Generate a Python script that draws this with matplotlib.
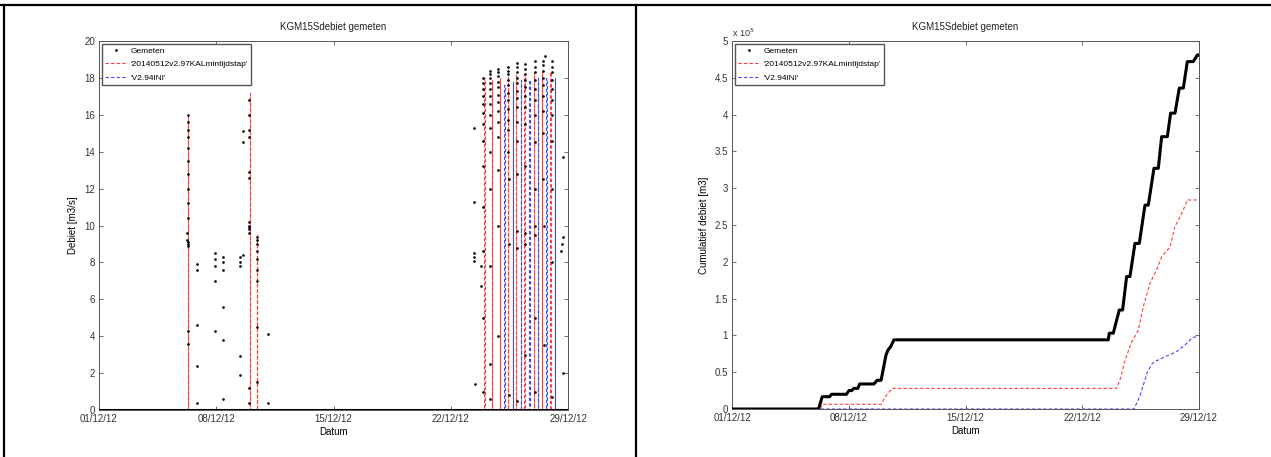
import matplotlib
matplotlib.use('Agg')
import matplotlib.pyplot as plt
import matplotlib.dates as mdates
from matplotlib.lines import Line2D
from matplotlib.ticker import FuncFormatter
from datetime import datetime, timedelta

plt.rcParams['font.family'] = ['Liberation Sans', 'DejaVu Sans']
plt.rcParams['font.size'] = 7

# ---------------------------------------------------------------
# data, time as day of December 2012 (1.0 = 01/12/12 00:00)
# ---------------------------------------------------------------
x_start, x_end = 1.0, 29.0
tick_days = [1, 8, 15, 22, 29]

# measured flow is zero outside the pump events
zero_days = [1.0, 29.0]

# measured flow, sparse points [m3/s]
meas_day = [
    # event 06/12
    6.30, 6.30, 6.31, 6.30, 6.31, 6.30, 6.31, 6.30, 6.30, 6.29, 6.28, 6.28, 6.29, 6.30, 6.30, 6.31, 6.30,
    6.85, 6.85, 6.86, 6.85, 6.86,
    7.93, 7.93, 7.94, 7.93, 7.94,
    8.40, 8.41, 8.40, 8.42, 8.40, 8.41,
    9.42, 9.42, 9.43, 9.42, 9.43,
    9.60, 9.61, 9.60,
    # event 10/12
    9.95, 9.96, 9.95, 9.96, 9.95, 9.96, 9.97, 9.96, 9.95, 9.96, 9.95, 9.97, 9.96,
    10.43, 10.43, 10.44, 10.43, 10.44, 10.43, 10.44, 10.43, 10.44,
    11.10, 11.10,
    # events 23/12 - 29/12
    23.40, 23.40, 23.41, 23.40, 23.41, 23.42,
    23.80, 23.80,
    23.94, 23.94, 23.94, 23.94, 23.94, 23.94, 23.94, 23.94, 23.94, 23.94, 23.94, 23.95, 23.95,
    24.34, 24.34, 24.34, 24.34, 24.34, 24.34, 24.34, 24.34, 24.34, 24.34, 24.34, 24.35, 24.35, 24.35,
    24.84, 24.84, 24.84, 24.84, 24.84, 24.84, 24.84, 24.84, 24.84, 24.84, 24.84, 24.85, 24.85,
    25.44, 25.44, 25.44, 25.44, 25.44, 25.44, 25.44, 25.44, 25.44, 25.44, 25.44, 25.45, 25.45, 25.45,
    25.94, 25.94, 25.94, 25.94, 25.94, 25.94, 25.94, 25.94, 25.94, 25.94, 25.94, 25.95, 25.95, 25.95,
    26.43, 26.43, 26.43, 26.43, 26.43, 26.43, 26.43, 26.43, 26.43, 26.44, 26.44, 26.44,
    27.03, 27.03, 27.03, 27.03, 27.03, 27.03, 27.03, 27.03, 27.03, 27.04, 27.04, 27.04, 27.04,
    27.53, 27.53, 27.53, 27.53, 27.53, 27.53, 27.53, 27.53, 27.53, 27.54, 27.54,
    28.03, 28.03, 28.03, 28.03, 28.03, 28.03, 28.03, 28.03, 28.03, 28.04, 28.04,
    27.60, 28.70, 28.70, 28.65, 28.60, 28.70,
]
meas_q = [
    16.0, 15.6, 15.2, 14.8, 14.2, 13.5, 12.8, 12.0, 11.2, 10.4, 9.6, 9.2, 9.1, 9.0, 8.9, 4.3, 3.6,
    7.9, 7.6, 4.6, 2.4, 0.4,
    8.5, 8.2, 7.8, 7.0, 4.3,
    8.3, 8.0, 7.6, 5.6, 3.8, 0.6,
    8.3, 8.0, 7.8, 2.9, 1.9,
    15.1, 14.5, 8.4,
    16.8, 16.0, 15.2, 14.8, 12.9, 12.6, 10.2, 10.0, 9.9, 9.8, 9.6, 1.2, 0.4,
    9.4, 9.2, 9.0, 8.6, 8.2, 7.6, 7.0, 4.5, 1.5,
    4.1, 0.4,
    15.3, 11.3, 8.5, 8.3, 8.1, 1.4,
    7.8, 6.7,
    18.0, 17.7, 17.4, 17.0, 16.6, 16.1, 15.5, 14.6, 13.2, 11.0, 8.6, 5.0, 1.0,
    18.4, 18.2, 18.0, 17.7, 17.4, 17.0, 16.6, 16.0, 15.3, 14.0, 12.0, 7.8, 2.5, 0.6,
    18.5, 18.3, 18.1, 17.8, 17.5, 17.1, 16.7, 16.2, 15.6, 14.8, 13.0, 10.0, 4.0,
    18.6, 18.4, 18.2, 17.9, 17.6, 17.2, 16.8, 16.3, 15.7, 15.2, 14.0, 12.5, 9.0, 0.8,
    18.8, 18.6, 18.3, 18.0, 17.7, 17.3, 16.9, 16.4, 15.6, 14.6, 12.8, 9.7, 8.8, 0.5,
    18.75, 18.5, 18.2, 17.9, 17.5, 17.0, 16.4, 15.5, 13.2, 9.6, 9.0, 3.0,
    18.9, 18.6, 18.3, 17.9, 17.4, 16.8, 16.0, 14.5, 12.0, 10.0, 9.5, 5.0, 1.0,
    18.9, 18.7, 18.4, 18.0, 17.6, 17.0, 16.2, 15.0, 12.5, 10.0, 3.5,
    18.9, 18.6, 18.3, 17.9, 17.4, 16.8, 16.0, 14.6, 12.0, 8.0, 0.7,
    19.2, 13.7, 9.4, 9.0, 8.6, 2.0,
]

# model runs: pump pulses (start day, peak flow m3/s)
red_on = [6.30, 10.00, 10.42, 24.00, 24.45, 24.95, 25.40, 25.90, 26.40, 26.95, 27.45, 27.95]
red_peak = [16.0, 17.2, 9.5, 18.0, 17.9, 18.0, 18.1, 18.2, 18.2, 18.3, 18.3, 18.3]
blue_on = [25.20, 25.70, 26.20, 26.70, 27.20, 27.70, 28.20]
blue_peak = [17.6, 17.8, 17.9, 17.9, 18.0, 18.0, 18.0]
pulse_len = 0.02

# cumulative volume [m3]
cum_meas_day = [1.0, 6.19, 6.41, 6.85, 6.97, 7.86, 8.01, 8.18, 8.30, 8.54, 8.66, 9.51, 9.70, 9.94,
                10.23, 10.35, 10.52, 10.71, 23.56, 23.62, 23.86, 24.22, 24.42, 24.66, 24.86, 25.16,
                25.42, 25.76, 25.96, 26.30, 26.56, 26.76, 27.10, 27.30, 27.56, 27.82, 28.06, 28.30,
                28.66, 28.90, 29.0]
cum_meas = [0, 0, 16700, 16700, 20000, 20000, 25000, 25000, 28000, 28000, 34000, 34000, 39000, 39000,
            73000, 80000, 85000, 94000, 94000, 103000, 103000, 134500, 134500, 180000, 180000, 225000,
            225000, 277000, 277000, 327000, 327000, 370000, 370000, 402000, 402000, 436000, 436000,
            472000, 472000, 481000, 481000]

cum_red_day = [1.0, 6.30, 6.40, 9.95, 10.20, 10.60, 24.06, 24.26, 24.56, 24.96, 25.36, 25.66, 26.06,
               26.46, 26.76, 27.26, 27.56, 27.86, 28.22, 28.30, 29.0]
cum_red = [0, 0, 6400, 6400, 17000, 28000, 28000, 39000, 66000, 91000, 107000, 139000, 171000,
           189000, 207000, 220000, 248000, 261000, 279000, 284000, 284000]

cum_blue_day = [1.0, 25.10, 25.45, 25.90, 26.20, 26.50, 27.06, 27.66, 28.16, 28.56, 29.0]
cum_blue = [0, 0, 17000, 50000, 62000, 66000, 72000, 78000, 87000, 96000, 100000]

labels = ['Gemeten', "'20140512v2.97KALmintijdstap'", "'V2.94INI'"]


def to_date(days):
    return [datetime(2012, 12, 1) + timedelta(days=d - 1) for d in days]


def pulses(on, peak, w):
    t, q = [x_start], [0.0]
    for s, h in zip(on, peak):
        t += [s, s, s + w, s + w]
        q += [0.0, h, h, 0.0]
    t.append(x_end)
    q.append(0.0)
    return to_date(t), q


red_col = '#ff3c3c'
blue_col = '#4646ff'
axis_col = '#555555'

fig = plt.figure(figsize=(12.71, 4.57), dpi=100)
W, H = 1271.0, 457.0
ax1 = fig.add_axes([99 / W, 47 / H, 469 / W, 369 / H])
ax2 = fig.add_axes([732 / W, 48 / H, 467 / W, 368 / H])

# left panel: flow
rt, rq = pulses(red_on, red_peak, pulse_len)
bt, bq = pulses(blue_on, blue_peak, pulse_len)
ax1.plot(to_date(zero_days), [0, 0], color='k', lw=2.2, zorder=3)
h1, = ax1.plot(to_date(meas_day), meas_q, 'k.', ms=1.8, zorder=3)
h2, = ax1.plot(rt, rq, '--', color=red_col, lw=0.8, dashes=(3, 2))
h3, = ax1.plot(bt, bq, '--', color=blue_col, lw=0.8, dashes=(3, 2))
ax1.set_ylim(0, 20)
ax1.set_yticks(range(0, 21, 2))
ax1.set_ylabel('Debiet [m3/s]')

# right panel: cumulative volume
ax2.plot(to_date(cum_meas_day), cum_meas, color='k', lw=2.2, zorder=3)
ax2.plot(to_date(cum_red_day), cum_red, '--', color=red_col, lw=0.8, dashes=(3, 2))
ax2.plot(to_date(cum_blue_day), cum_blue, '--', color=blue_col, lw=0.8, dashes=(3, 2))
ax2.set_ylim(0, 5e5)
ax2.set_yticks([i * 0.5e5 for i in range(11)])
ax2.yaxis.set_major_formatter(FuncFormatter(lambda v, p: '%g' % (v / 1e5)))
ax2.set_ylabel('Cumulatief debiet [m3]')
ax2.text(0.0, 1.005, r'x 10$^5$', transform=ax2.transAxes, ha='left', va='bottom',
         fontsize=6.5, color='#333333')

for ax in (ax1, ax2):
    ax.set_xlim(to_date([x_start, x_end]))
    ax.set_xticks(to_date(tick_days))
    ax.xaxis.set_major_formatter(mdates.DateFormatter('%d/%m/%y'))
    ax.set_xlabel('Datum', labelpad=2)
    ax.set_title('KGM15Sdebiet gemeten', fontsize=7, pad=8, color='#222222')
    ax.tick_params(direction='in', top=True, right=True, length=3, width=0.6,
                   color=axis_col, labelcolor='#333333', pad=3)
    for s in ax.spines.values():
        s.set_color(axis_col)
        s.set_linewidth(0.7)
    ax.legend([h1, h2, h3], labels, loc='upper left', fancybox=False, framealpha=1,
              edgecolor=axis_col, borderpad=0.35, labelspacing=0.7, handlelength=2.6,
              handletextpad=0.5, borderaxespad=0.35, fontsize=6)

# table borders of the document around the figures
fig.add_artist(Line2D([0, 1], [1 - 5 / H, 1 - 5 / H], color='k', lw=1.6))
fig.add_artist(Line2D([4 / W, 4 / W], [0, 1 - 5 / H], color='k', lw=1.6))
fig.add_artist(Line2D([636 / W, 636 / W], [0, 1 - 5 / H], color='k', lw=1.6))

fig.savefig('out.png', dpi=100)
